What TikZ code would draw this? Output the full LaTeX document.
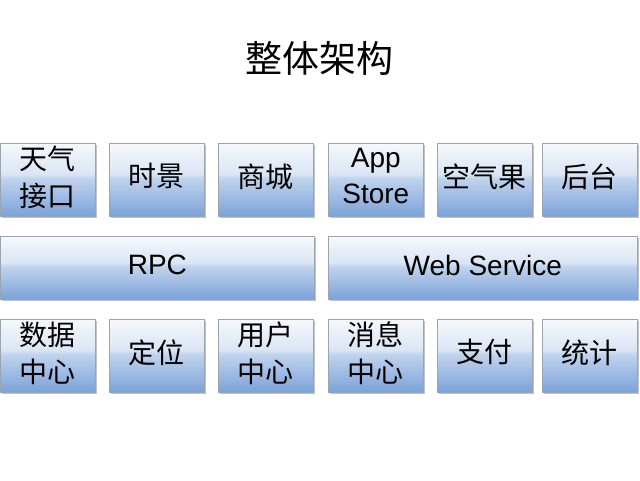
\documentclass[tikz,border=0pt]{standalone}
\usepackage{fontspec}
\setmainfont{Liberation Sans}
\newfontfamily\cjk{Noto Sans CJK SC}
\usetikzlibrary{shadows}
\definecolor{gbot}{HTML}{7BA2D9}
\definecolor{glow}{HTML}{A3BEE5}
\definecolor{gmidA}{HTML}{C0D3EE}
\definecolor{gmidB}{HTML}{DAE5F5}
\definecolor{gtop}{HTML}{F6F8FC}
\definecolor{bordergray}{HTML}{9CA4AE}
\pgfdeclareverticalshading{glossblue}{100bp}{color(0bp)=(gbot); color(25bp)=(gbot); color(40bp)=(glow); color(51bp)=(gmidA); color(54bp)=(gmidB); color(75bp)=(gtop); color(100bp)=(gtop)}
\tikzset{
  blockbox/.style={draw=bordergray, line width=0.7pt, shading=glossblue,
    drop shadow={shadow xshift=1.6pt, shadow yshift=-1.8pt, opacity=0.4, fill=black!60},
    anchor=north west, inner sep=0pt},
  smallbox/.style={blockbox, minimum width=95pt, minimum height=73pt},
  widebox/.style={blockbox, minimum height=63pt},
  lbl/.style={inner sep=0pt, align=center, text=black, yshift=3.5pt},
  cjktext/.style={lbl, font=\cjk\fontsize{28}{37}\selectfont},
  cjktwo/.style={cjktext, yshift=-1pt},
  lattext/.style={lbl, font=\fontsize{28}{36}\selectfont},
  titletext/.style={font=\cjk\fontsize{37}{40}\selectfont}
}
\begin{document}
\begin{tikzpicture}[x=1pt,y=1pt]
\useasboundingbox (0,0) rectangle (640,-480);
\node[titletext] (title) at (319,-58) {整体架构};
% top row
\node[smallbox] (t1) at (0,-143) {};
\node[smallbox] (t2) at (109,-143) {};
\node[smallbox] (t3) at (218,-143) {};
\node[smallbox] (t4) at (328,-143) {};
\node[smallbox] (t5) at (437,-143) {};
\node[smallbox] (t6) at (542,-143) {};
\node[cjktwo] (t1l) at (t1.center) {天气\\接口};
\node[cjktext] (t2l) at (t2.center) {时景};
\node[cjktext] (t3l) at (t3.center) {商城};
\node[lattext] (t4l) at (t4.center) {App\\Store};
\node[cjktext] (t5l) at (t5.center) {空气果};
\node[cjktext] (t6l) at (t6.center) {后台};
% middle row
\node[widebox, minimum width=314pt] (rpc) at (0,-236) {};
\node[widebox, minimum width=309pt] (ws) at (328,-236) {};
\node[lattext, yshift=-1pt] (rpcl) at (rpc.center) {RPC};
\node[lattext, yshift=-1pt] (wsl) at (ws.center) {Web Service};
% bottom row
\node[smallbox] (b1) at (0,-319) {};
\node[smallbox] (b2) at (109,-319) {};
\node[smallbox] (b3) at (218,-319) {};
\node[smallbox] (b4) at (328,-319) {};
\node[smallbox] (b5) at (437,-319) {};
\node[smallbox] (b6) at (542,-319) {};
\node[cjktwo] (b1l) at (b1.center) {数据\\中心};
\node[cjktext] (b2l) at (b2.center) {定位};
\node[cjktwo] (b3l) at (b3.center) {用户\\中心};
\node[cjktwo] (b4l) at (b4.center) {消息\\中心};
\node[cjktext] (b5l) at (b5.center) {支付};
\node[cjktext] (b6l) at (b6.center) {统计};
\end{tikzpicture}
\end{document}
